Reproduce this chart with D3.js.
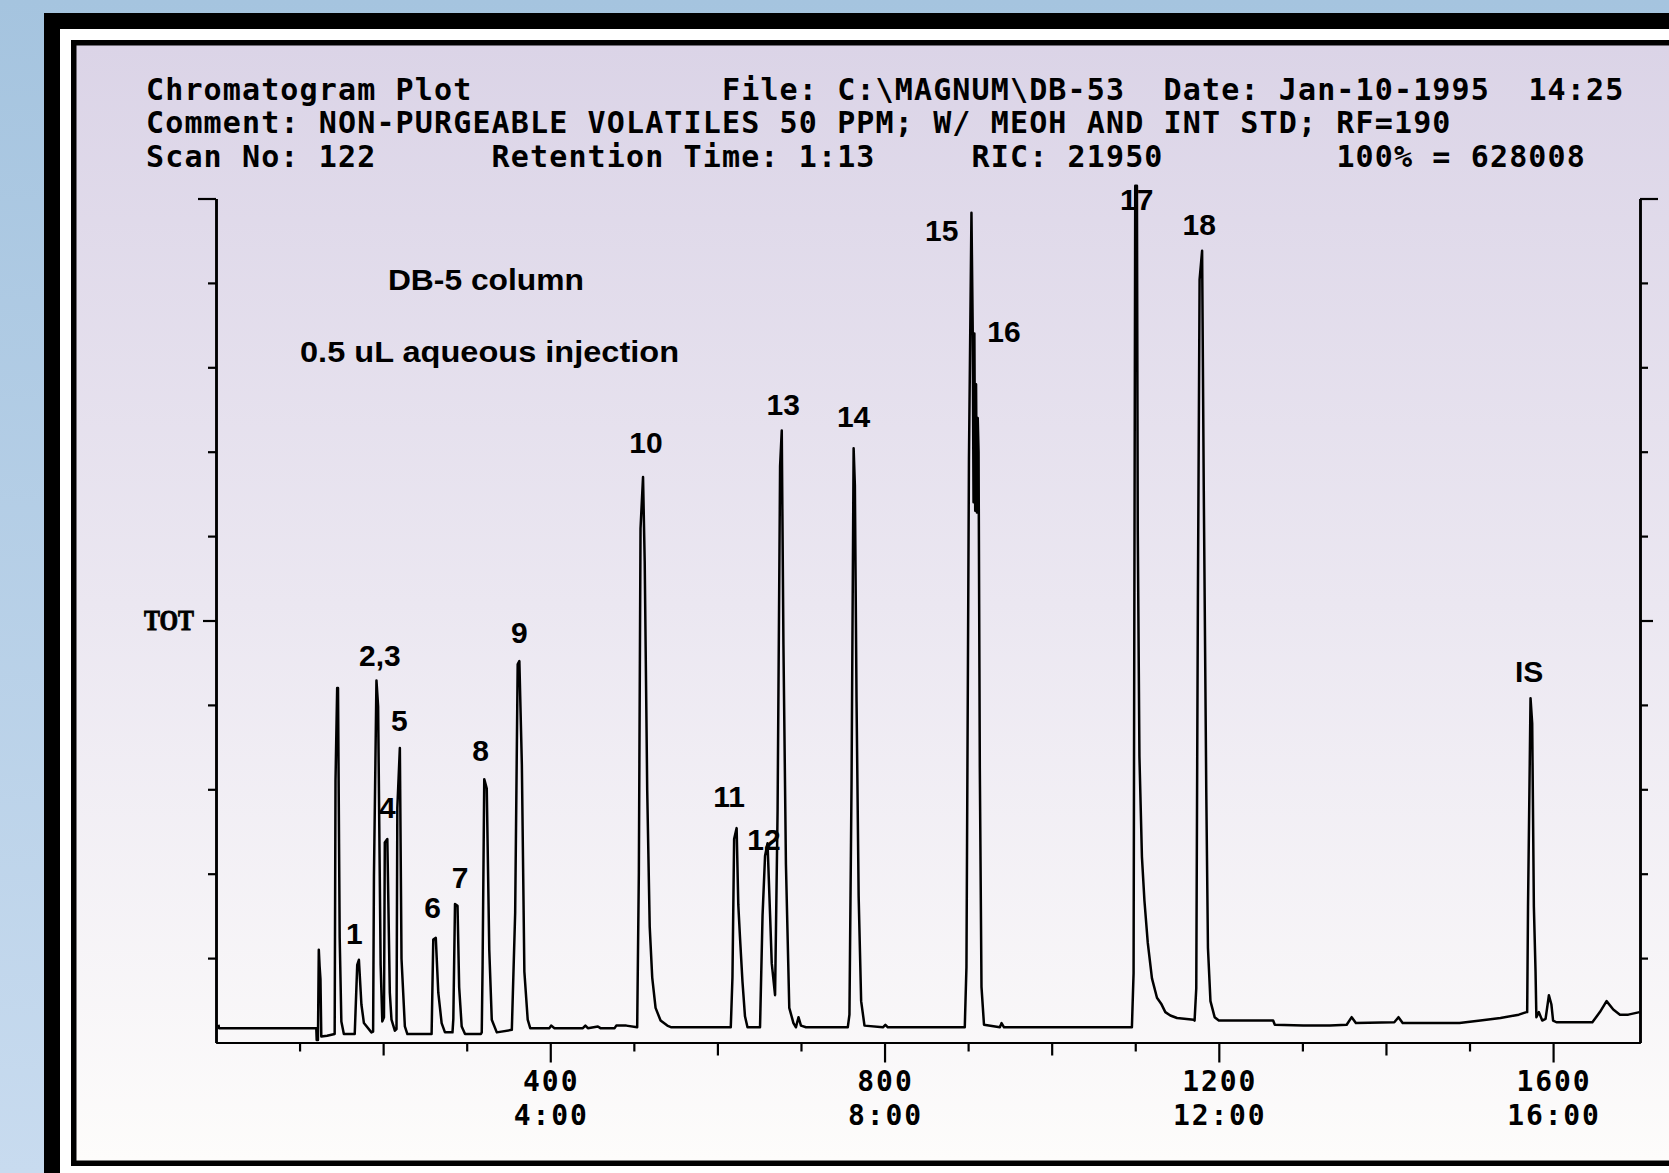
<!DOCTYPE html>
<meta charset="utf-8">

<style>

body {
  margin: 0;
  background: #a6c5e0;
}

svg text.mono {
  font-family: "DejaVu Sans Mono", monospace;
  font-weight: bold;
}

svg text.label {
  font-family: "Liberation Sans", Arial, sans-serif;
  font-weight: bold;
  font-size: 30px;
}

</style>

<svg class="chart" width="1669" height="1173"></svg>

<script src="https://d3js.org/d3.v7.min.js"></script>

<script>

// header lines: [column, text]
var headerLine1 = [[0, "Chromatogram Plot"], [30, "File: C:\\MAGNUM\\DB-53"], [53, "Date: Jan-10-1995"], [72, "14:25"]];
var headerLine2 = [[0, "Comment: NON-PURGEABLE VOLATILES 50 PPM; W/ MEOH AND INT STD; RF=190"]];
var headerLine3 = [[0, "Scan No: 122"], [18, "Retention Time: 1:13"], [43, "RIC: 21950"], [62, "100% = 628008"]];

// axis ticks
var minorTicks = [100, 300, 500, 700, 900, 1100, 1300, 1500];
var midTicks = [200, 600, 1000, 1400];
var majorTicks = [400, 800, 1200, 1600];
var majorTimes = ["4:00", "8:00", "12:00", "16:00"];
var yTicks = [10, 20, 30, 40, 60, 70, 80, 90];

// total ion trace, [scan, % of 628008]
var tic = [
  [3, 2.1], [3.5, 1.7], [120, 1.7], [120.5, 0.3], [122, 0.3], [123, 11.0], [124, 9.0], [125, 7.5], [126, 0.7],
  [133, 0.8], [142, 1.0], [143, 31.0], [145, 42.0], [146, 42.0], [148, 12.4], [150, 2.5], [153, 1.0], [166, 1.0],
  [169, 9.2], [171, 9.8], [174, 4.5], [177, 2.3], [186, 1.2],
  [188, 1.3], [189, 19.7], [192, 42.9], [194, 39.8], [197, 9.2], [199, 2.5],
  [201, 3.0], [202, 23.7], [205, 24.1], [208, 5.9], [210, 2.7], [214, 1.4],
  [216, 1.6], [217, 27.8], [220, 34.9], [222, 9.9], [226, 1.9], [229, 1.0], [258, 1.0],
  [260, 12.2], [263, 12.4], [266, 5.9], [270, 2.3], [274, 1.2], [283, 1.2],
  [284, 2.8], [286, 16.4], [289, 16.2], [291, 6.5], [294, 1.9], [298, 1.0], [317, 1.0],
  [318, 1.2], [319, 9.0], [321, 31.2], [324, 30.1], [327, 11.0], [330, 2.7], [336, 1.2], [354, 1.5],
  [358, 15.4], [361, 44.8], [363, 45.2], [366, 32.9], [369, 8.4], [373, 2.7], [376, 1.7], [399, 1.7], [401, 2.0], [405, 1.7],
  [439, 1.7], [442, 2.0], [445, 1.7], [457, 1.9], [460, 1.7], [477, 1.7], [479, 2.0], [491, 2.0], [504, 1.8],
  [506, 20.1], [508, 60.9], [511, 67.0], [513, 57.0], [516, 29.9], [519, 13.7], [522, 7.7], [526, 4.1], [532, 2.6], [540, 2.0], [545, 1.8], [616, 1.8],
  [618, 7.7], [620, 24.1], [623, 25.4], [625, 16.3], [627, 12.5], [630, 7.2], [633, 3.1], [636, 1.8], [651, 1.8],
  [654, 15.0], [657, 22.1], [660, 23.6], [663, 15.2], [665, 9.4], [669, 5.6], [672, 27.4], [675, 68.3], [677, 72.5], [679, 47.2],
  [682, 21.1], [686, 4.1], [691, 2.3], [694, 1.8], [697, 3.0], [700, 2.0], [706, 1.8], [756, 1.8],
  [758, 3.3], [760.5, 30.6], [763, 70.4], [764.5, 66.0], [766.5, 40.4], [769, 17.4], [772, 4.9], [776, 2.0], [798, 1.8], [801, 2.1], [804, 1.8], [896, 1.8],
  [898, 8.9], [901, 69.1], [904, 98.3], [905.5, 84.5], [906.5, 64.0], [907.5, 84.0], [908.5, 63.0], [909.5, 78.0], [910.5, 62.8],
  [911.5, 74.0], [912.5, 70.0], [914, 32.6], [916, 6.6], [919, 2.1],
  [938, 1.8], [940, 2.3], [943, 1.8], [1096, 1.8],
  [1098, 8.2], [1100, 101.5], [1102, 101.5], [1103, 60.8], [1105, 33.9], [1108, 22.0], [1111, 16.8], [1115, 11.8], [1120, 7.6], [1126, 5.3],
  [1131, 4.6], [1136, 3.6], [1142, 3.2], [1150, 2.9], [1170, 2.7],
  [1171, 2.6], [1173, 6.4], [1175, 53.3], [1177, 90.4], [1180, 93.8], [1182, 65.4], [1185, 29.6], [1187, 11.2], [1190, 4.9], [1195, 3.0], [1200, 2.6],
  [1265, 2.6], [1267, 2.1], [1301, 2.0], [1333, 2.0], [1353, 2.1], [1359, 3.0], [1364, 2.3], [1410, 2.4], [1415, 3.0], [1420, 2.3],
  [1488, 2.3], [1513, 2.6], [1537, 2.9], [1559, 3.3], [1568, 3.6],
  [1569, 3.6], [1570, 16.1], [1573, 40.8], [1575, 37.8], [1577, 16.1], [1579, 8.4], [1580, 3.0], [1583, 3.6], [1587, 2.6], [1591, 2.8],
  [1595, 5.6], [1598, 4.5], [1600, 2.6], [1604, 2.4], [1647, 2.4], [1656, 3.6], [1664, 4.9], [1672, 3.9], [1680, 3.3], [1690, 3.3], [1703.5, 3.6]
];

// peak labels, anchored at [scan, %] (baseline)
var peakNames = ["1", "2,3", "4", "5", "6", "7", "8", "9", "10", "11", "12", "13", "14", "15", "16", "17", "18", "IS"];
var peakScan = [165.5, 196.2, 205, 219.3, 259.3, 292, 316.7, 362.9, 514.5, 613.9, 655.7, 678.8, 763, 868.4, 942.9, 1101.7, 1176.5, 1571.4];
var peakTot = [11.7, 44.6, 26.6, 36.9, 14.8, 18.3, 33.3, 47.3, 69.9, 27.9, 22.8, 74.4, 72.9, 95.0, 83.0, 98.6, 95.7, 42.7];

var notes = ["DB-5 column", "0.5 uL aqueous injection"];
var noteScan = [323, 327.3];
var noteTot = [89.2, 80.6];

var svg = d3.select("svg.chart");
var defs = svg.append("defs");

var skyGrad = defs.append("linearGradient").attr("id", "sky").attr("x1", 0).attr("y1", 0).attr("x2", 0).attr("y2", 1);
skyGrad.append("stop").attr("offset", 0).attr("stop-color", "#a5c4df");
skyGrad.append("stop").attr("offset", 1).attr("stop-color", "#c8dbef");

var paperGrad = defs.append("linearGradient").attr("id", "paper").attr("x1", 0).attr("y1", 0).attr("x2", 0).attr("y2", 1);
paperGrad.append("stop").attr("offset", 0).attr("stop-color", "#dbd4e7");
paperGrad.append("stop").attr("offset", 0.5).attr("stop-color", "#ebe7f1");
paperGrad.append("stop").attr("offset", 1).attr("stop-color", "#fdfcfb");

// frame
svg.append("rect").attr("width", 1669).attr("height", 1173).attr("fill", "url(#sky)");
svg.append("rect").attr("x", 44).attr("y", 13).attr("width", 1700).attr("height", 1200).attr("fill", "#000");
svg.append("rect").attr("x", 60).attr("y", 29).attr("width", 1700).attr("height", 1200).attr("fill", "#fff");
svg.append("rect").attr("x", 71).attr("y", 40).attr("width", 1700).attr("height", 1126).attr("fill", "#000");
svg.append("rect").attr("x", 76.5).attr("y", 45.5).attr("width", 1700).attr("height", 1115).attr("fill", "url(#paper)");

// header
var charW = 19.2;
[headerLine1, headerLine2, headerLine3].forEach(function(line, i) {
  svg.append("g").selectAll("text")
    .data(line)
    .enter().append("text")
      .attr("class", "mono")
      .attr("x", function(d) { return 146 + d[0] * charW; })
      .attr("y", 99.5 + i * 33.5)
      .attr("font-size", 30)
      .attr("textLength", function(d) { return d[1].length * charW - 1.2; })
      .attr("lengthAdjust", "spacing")
      .text(function(d) { return d[1]; });
});

var x = d3.scaleLinear().domain([0, 1704]).range([216, 1640]);
var y = d3.scaleLinear().domain([0, 100]).range([1042.5, 198.5]);

function inkAxis(g) {
  g.selectAll("path, line").attr("stroke", "#000").attr("stroke-width", 2.2);
  g.selectAll("text").remove();
}

// x axis: three tick lengths
[[minorTicks, 9], [midTicks, 13], [majorTicks, 20]].forEach(function(t) {
  svg.append("g")
    .attr("transform", `translate(0,${y(0)})`)
    .call(d3.axisBottom(x).tickValues(t[0]).tickSize(t[1]).tickSizeOuter(0).tickFormat(""))
    .call(inkAxis);
});

var xLabels = svg.append("g").selectAll("g")
  .data(majorTicks)
  .enter().append("g");

xLabels.append("text")
  .attr("class", "mono")
  .attr("x", function(d) { return x(d); })
  .attr("y", 1091)
  .attr("font-size", 28)
  .attr("text-anchor", "middle")
  .attr("textLength", function(d) { return String(d).length * 18.5 - 1; })
  .attr("lengthAdjust", "spacing")
  .text(function(d) { return d; });

xLabels.append("text")
  .attr("class", "mono")
  .attr("x", function(d) { return x(d); })
  .attr("y", 1125)
  .attr("font-size", 28)
  .attr("text-anchor", "middle")
  .attr("textLength", function(d, i) { return majorTimes[i].length * 18.5 - 1; })
  .attr("lengthAdjust", "spacing")
  .text(function(d, i) { return majorTimes[i]; });

// y axes, left and right
[[d3.axisLeft, 216], [d3.axisRight, 1640]].forEach(function(a) {
  [[yTicks, 8], [[50], 13], [[100], 18]].forEach(function(t) {
    svg.append("g")
      .attr("transform", `translate(${a[1]},0)`)
      .call(a[0](y).tickValues(t[0]).tickSize(t[1]).tickSizeOuter(0).tickFormat(""))
      .call(inkAxis);
  });
});

svg.append("text")
  .attr("x", 194)
  .attr("y", 630)
  .attr("text-anchor", "end")
  .attr("font-family", "'Liberation Serif', serif")
  .attr("font-weight", "bold")
  .attr("font-size", 29)
  .attr("stroke", "#000")
  .attr("stroke-width", 0.9)
  .attr("textLength", 50)
  .attr("lengthAdjust", "spacingAndGlyphs")
  .text("TOT");

// notes
var noteWidth = [196, 379];
svg.append("g").selectAll("text")
  .data(notes)
  .enter().append("text")
    .attr("class", "label")
    .attr("x", function(d, i) { return x(noteScan[i]) - noteWidth[i] / 2; })
    .attr("y", function(d, i) { return y(noteTot[i]); })
    .attr("font-size", 31)
    .attr("textLength", function(d, i) { return noteWidth[i]; })
    .attr("lengthAdjust", "spacingAndGlyphs")
    .text(function(d) { return d; });

// trace
var line = d3.line()
  .x(function(d) { return x(d[0]); })
  .y(function(d) { return y(d[1]); });

svg.append("path")
  .datum(tic)
  .attr("d", line)
  .attr("fill", "none")
  .attr("stroke", "#000")
  .attr("stroke-width", 2.5)
  .attr("stroke-linejoin", "round");

// peak labels
svg.append("g").selectAll("text")
  .data(peakNames)
  .enter().append("text")
    .attr("class", "label")
    .attr("x", function(d, i) { return x(peakScan[i]); })
    .attr("y", function(d, i) { return y(peakTot[i]); })
    .attr("text-anchor", "middle")
    .text(function(d) { return d; });

</script>
